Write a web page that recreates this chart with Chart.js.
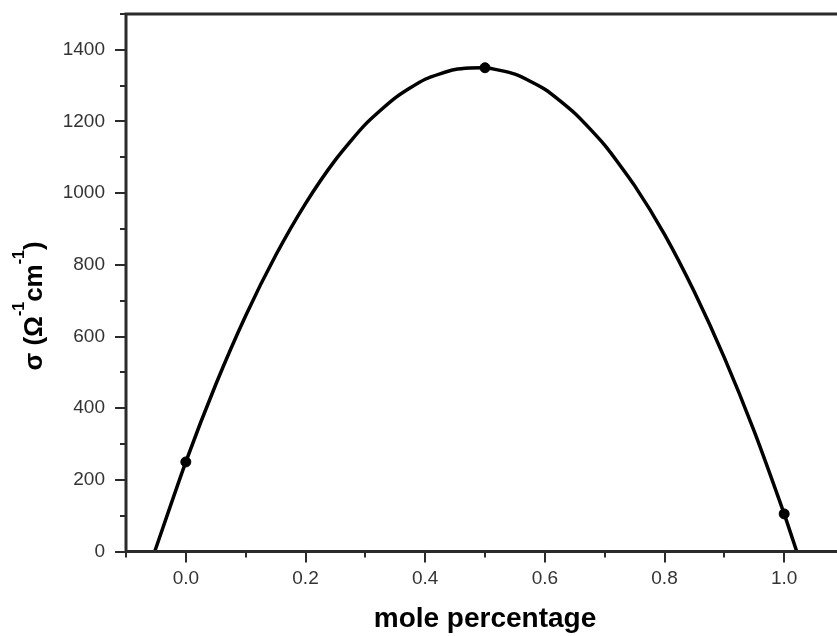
<!DOCTYPE html>
<html>
<head>
<meta charset="utf-8">
<script src="https://cdn.jsdelivr.net/npm/chart.js@4.4.0/dist/chart.umd.min.js"></script>
<style>
  html, body { margin: 0; padding: 0; background: #fff; overflow: hidden; }
  #wrap { position: relative; width: 880px; height: 636px; }
</style>
</head>
<body>
<div id="wrap"><canvas id="chart"></canvas></div>
<script>
// fitted curve
const curveX = [-0.052, 0, 0.05, 0.1, 0.15, 0.2, 0.25, 0.3, 0.35, 0.4, 0.45, 0.5,
                0.55, 0.6, 0.65, 0.7, 0.75, 0.8, 0.85, 0.9, 0.95, 1.0, 1.021];
const curveY = [0, 250, 466, 658, 826, 971, 1093, 1192, 1266, 1318, 1345, 1350,
                1332, 1290, 1223, 1134, 1021, 885, 724, 541, 335, 105, 0];

// measured points
const pointX = [0, 0.5, 1.0];
const pointY = [250, 1350, 105];

const xTickLabels = ['0.0', '0.2', '0.4', '0.6', '0.8', '1.0'];
const yTickLabels = ['0', '200', '400', '600', '800', '1000', '1200', '1400'];

const AXIS = '#2b2b2b';
const FONT = '"Liberation Sans", Arial, Helvetica, sans-serif';

Chart.defaults.font.family = FONT;

const frame = {
  id: 'frame',
  afterDraw(chart) {
    const { ctx, chartArea: a } = chart;
    const xs = chart.scales.x, ys = chart.scales.y;
    ctx.save();
    ctx.strokeStyle = AXIS;
    ctx.lineWidth = 3;
    ctx.strokeRect(a.left, a.top, a.right - a.left, a.bottom - a.top);

    ctx.lineWidth = 2;
    ctx.beginPath();
    xs.ticks.forEach(t => {
      const px = Math.round(xs.getPixelForValue(t.value));
      const major = Math.round(t.value * 10) % 2 === 0;
      ctx.moveTo(px, a.bottom);
      ctx.lineTo(px, a.bottom + (major ? 11 : 6));
    });
    ys.ticks.forEach(t => {
      const py = Math.round(ys.getPixelForValue(t.value));
      const major = Math.round(t.value / 100) % 2 === 0;
      ctx.moveTo(a.left, py);
      ctx.lineTo(a.left - (major ? 11 : 6), py);
    });
    ctx.stroke();

    // y title with superscripts
    const big = 'bold 26px ' + FONT, small = 'bold 16px ' + FONT;
    const parts = [['σ (Ω', big, 0], ['-1', small, -18], ['cm', big, 0], ['-1', small, -18], [')', big, 0]];
    let total = 0;
    parts.forEach(p => { ctx.font = p[1]; total += ctx.measureText(p[0]).width; });
    ctx.translate(42, 306 + total / 2);
    ctx.rotate(-Math.PI / 2);
    ctx.fillStyle = '#000';
    ctx.textBaseline = 'alphabetic';
    let x = 0;
    parts.forEach(p => {
      ctx.font = p[1];
      ctx.fillText(p[0], x, p[2]);
      x += ctx.measureText(p[0]).width;
    });
    ctx.restore();
  }
};

new Chart(document.getElementById('chart'), {
  type: 'scatter',
  data: {
    datasets: [
      {
        type: 'line',
        data: curveX.map((x, i) => ({ x, y: curveY[i] })),
        borderColor: '#000',
        borderWidth: 3.5,
        pointRadius: 0,
        tension: 0.2,
        fill: false,
      },
      {
        data: pointX.map((x, i) => ({ x, y: pointY[i] })),
        backgroundColor: '#000',
        borderColor: '#000',
        pointRadius: 5,
      },
    ],
  },
  options: {
    responsive: true,
    maintainAspectRatio: false,
    animation: false,
    layout: { padding: { top: 14, right: 36, bottom: 0, left: 0 } },
    plugins: { legend: { display: false }, tooltip: { enabled: false } },
    scales: {
      x: {
        type: 'linear',
        min: -0.1, max: 1.1,
        grid: { display: false, drawTicks: false },
        border: { display: false },
        ticks: {
          stepSize: 0.1,
          padding: 16,
          maxRotation: 0,
          autoSkip: false,
          color: '#333',
          font: { size: 19 },
          callback: v => {
            const k = Math.round(v * 10);
            return k >= 0 && k % 2 === 0 ? (xTickLabels[k / 2] || '') : '';
          },
        },
        title: {
          display: true,
          text: 'mole percentage',
          color: '#000',
          font: { size: 28, weight: 'bold' },
          padding: { top: 0, bottom: 0 },
        },
        afterFit: s => { s.height = 84.5; s.paddingLeft = 0; s.paddingRight = 0; },
      },
      y: {
        min: 0, max: 1500,
        grid: { display: false, drawTicks: false },
        border: { display: false },
        ticks: {
          stepSize: 100,
          padding: 21,
          autoSkip: false,
          color: '#333',
          font: { size: 19 },
          callback: v => {
            const k = Math.round(v / 100);
            return k % 2 === 0 ? (yTickLabels[k / 2] || '') : '';
          },
        },
        afterFit: s => { s.width = 126; s.paddingTop = 0; s.paddingBottom = 0; },
      },
    },
  },
  plugins: [frame],
});
</script>
</body>
</html>
